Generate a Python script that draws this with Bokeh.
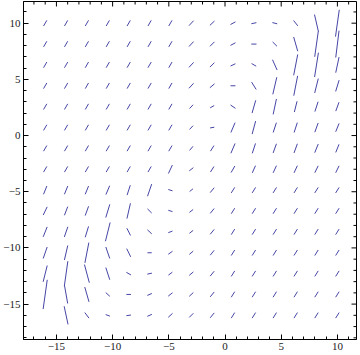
import numpy as np
from bokeh.plotting import figure
from bokeh.models import Range1d, LinearAxis, FixedTicker
from bokeh.embed import file_html
from bokeh.resources import INLINE

# grid of sample points
xs = [-16.0, -14.14, -12.29, -10.43, -8.57, -6.71, -4.86, -3.0, -1.14, 0.71, 2.57, 4.43, 6.29, 8.14, 10.0]
ys = [10.0, 8.14, 6.29, 4.43, 2.57, 0.71, -1.14, -3.0, -4.86, -6.71, -8.57, -10.43, -12.29, -14.14, -16.0]

# segment direction (degrees) per row, top row first
ang_r0 = [60, 60, 60, 60, 60, 60, 60, 47, 43, 28, 12, -14, -52, -77, 82]
ang_r1 = [60, 60, 60, 60, 60, 60, 60, 47, 45, 28, 0, -45, -74, 82, 83]
ang_r2 = [60, 60, 60, 60, 60, 60, 60, 47, 45, 25, -30, -66, 79, 81, 78]
ang_r3 = [60, 60, 60, 60, 60, 60, 60, 47, 40, 0, -58, 77, 79, 76, 73]
ang_r4 = [60, 60, 60, 60, 60, 60, 60, 47, 30, -34, 74, 78, 76, 72, 70]
ang_r5 = [60, 60, 60, 60, 60, 60, 60, 47, 10, 67, 75, 72, 72, 70, 68]
ang_r6 = [60, 60, 60, 60, 60, 60, 60, 50, 58, 67, 72, 70, 70, 68, 68]
ang_r7 = [60, 60, 60, 60, 60, 60, 65, 38, 58, 60, 66, 65, 65, 64, 64]
ang_r8 = [68, 68, 68, 67, 72, 71, -17, 39, 51, 58, 58, 58, 58, 58, 58]
ang_r9 = [64, 69, 70, 73, 77, -45, -17, 38, 51, 58, 58, 58, 58, 58, 58]
ang_r10 = [68, 71, 73, 76, -63, -43, 21, 38, 51, 58, 58, 58, 58, 58, 58]
ang_r11 = [71, 77, 79, -71, -64, 0, 35, 40, 51, 58, 58, 58, 58, 58, 58]
ang_r12 = [76, 82, -75, -72, -30, 12, 37, 40, 51, 58, 58, 58, 58, 58, 58]
ang_r13 = [82, -80, -74, -42, 0, 23, 38, 43, 51, 58, 58, 58, 58, 58, 58]
ang_r14 = [None, -78, -53, -20, 8, 23, 43, 45, 51, 58, 58, 58, 58, 58, 58]

# segment length (data units) per row
len_r0 = [.58, .58, .58, .58, .58, .58, .58, .60, .56, .50, .46, .44, .61, 1.58, 2.41]
len_r1 = [.58, .58, .58, .58, .58, .58, .58, .60, .56, .50, .46, .54, 1.32, 2.28, 2.41]
len_r2 = [.58, .58, .58, .58, .58, .58, .58, .60, .56, .48, .47, 1.01, 1.89, 2.19, 1.42]
len_r3 = [.58, .58, .58, .58, .58, .58, .58, .60, .54, .44, .77, 1.56, 1.80, 1.32, 1.05]
len_r4 = [.58, .58, .58, .58, .58, .58, .58, .46, .41, .53, 1.18, 1.40, .99, .92, .84]
len_r5 = [.58, .58, .58, .58, .58, .58, .58, .46, .38, .95, 1.20, .92, .92, .87, .80]
len_r6 = [.58, .58, .58, .58, .58, .58, .58, .48, .58, .95, .92, .87, .87, .83, .78]
len_r7 = [.58, .58, .58, .58, .58, .58, .83, .46, .58, .68, .70, .70, .70, .68, .68]
len_r8 = [.79, .79, .79, .86, .92, 1.14, .39, .38, .56, .58, .58, .58, .58, .58, .58]
len_r9 = [.81, .82, .88, 1.23, 1.40, .53, .39, .42, .56, .58, .58, .58, .58, .58, .58]
len_r10 = [.95, .96, 1.01, 1.72, .72, .53, .40, .42, .56, .58, .58, .58, .58, .58, .58]
len_r11 = [1.08, 1.32, 1.84, 1.08, .81, .38, .46, .45, .56, .58, .58, .58, .58, .58, .58]
len_r12 = [1.49, 2.24, 1.67, 1.14, .47, .42, .44, .48, .56, .58, .58, .58, .58, .58, .58]
len_r13 = [2.63, 1.64, 1.37, .49, .41, .44, .48, .50, .56, .58, .58, .58, .58, .58, .58]
len_r14 = [None, 1.65, .62, .40, .41, .44, .52, .52, .56, .58, .58, .58, .58, .58, .58]

angle_rows = [ang_r0, ang_r1, ang_r2, ang_r3, ang_r4, ang_r5, ang_r6, ang_r7,
              ang_r8, ang_r9, ang_r10, ang_r11, ang_r12, ang_r13, ang_r14]
length_rows = [len_r0, len_r1, len_r2, len_r3, len_r4, len_r5, len_r6, len_r7,
               len_r8, len_r9, len_r10, len_r11, len_r12, len_r13, len_r14]

major_ticks = [-15, -10, -5, 0, 5, 10]
minor_ticks = list(range(-18, 13))

X_MIN, X_MAX = -17.93, 11.70
Y_MIN, Y_MAX = -18.15, 11.93

x0, y0, x1, y1 = [], [], [], []
for j, cy in enumerate(ys):
    for i, cx in enumerate(xs):
        a = angle_rows[j][i]
        L = length_rows[j][i]
        if a is None or L is None:
            continue
        t = np.deg2rad(a)
        hx = 0.5 * L * np.cos(t)
        hy = 0.5 * L * np.sin(t)
        x0.append(cx - hx); y0.append(cy - hy)
        x1.append(cx + hx); y1.append(cy + hy)

p = figure(width=360, height=355, output_backend="svg", toolbar_location=None,
           x_range=Range1d(X_MIN, X_MAX), y_range=Range1d(Y_MIN, Y_MAX),
           x_axis_location=None, y_axis_location=None,
           min_border_left=20, min_border_right=4, min_border_top=1, min_border_bottom=16)
p.grid.visible = False
p.outline_line_color = "black"
p.background_fill_color = "white"
p.border_fill_color = "white"

p.segment(x0, y0, x1, y1, line_color="#4646a6", line_width=1)

overrides = {t: (("\u2212" + str(-t)) if t < 0 else str(t)) for t in major_ticks}

def make_axis():
    ax = LinearAxis(ticker=FixedTicker(ticks=major_ticks, minor_ticks=minor_ticks))
    ax.major_tick_in = 5
    ax.major_tick_out = 0
    ax.minor_tick_in = 3
    ax.minor_tick_out = 0
    ax.axis_line_color = "black"
    ax.major_tick_line_color = "black"
    ax.minor_tick_line_color = "black"
    ax.major_label_overrides = overrides
    ax.major_label_text_font = "Liberation Serif"
    ax.major_label_text_font_size = "11px"
    ax.major_label_text_color = "#222222"
    ax.major_label_standoff = 3
    return ax

p.add_layout(make_axis(), "left")
p.add_layout(make_axis(), "below")

# unlabelled inward ticks on the top and right frame edges
minor_only = [t for t in minor_ticks if t not in major_ticks]
p.ray(x=major_ticks, y=[Y_MAX] * len(major_ticks), length=5, length_units="screen",
      angle=-np.pi / 2, line_color="black", line_width=1)
p.ray(x=minor_only, y=[Y_MAX] * len(minor_only), length=3, length_units="screen",
      angle=-np.pi / 2, line_color="black", line_width=1)
p.ray(x=[X_MAX] * len(major_ticks), y=major_ticks, length=5, length_units="screen",
      angle=np.pi, line_color="black", line_width=1)
p.ray(x=[X_MAX] * len(minor_only), y=minor_only, length=3, length_units="screen",
      angle=np.pi, line_color="black", line_width=1)

open("out.html", "w").write(file_html(p, INLINE))
